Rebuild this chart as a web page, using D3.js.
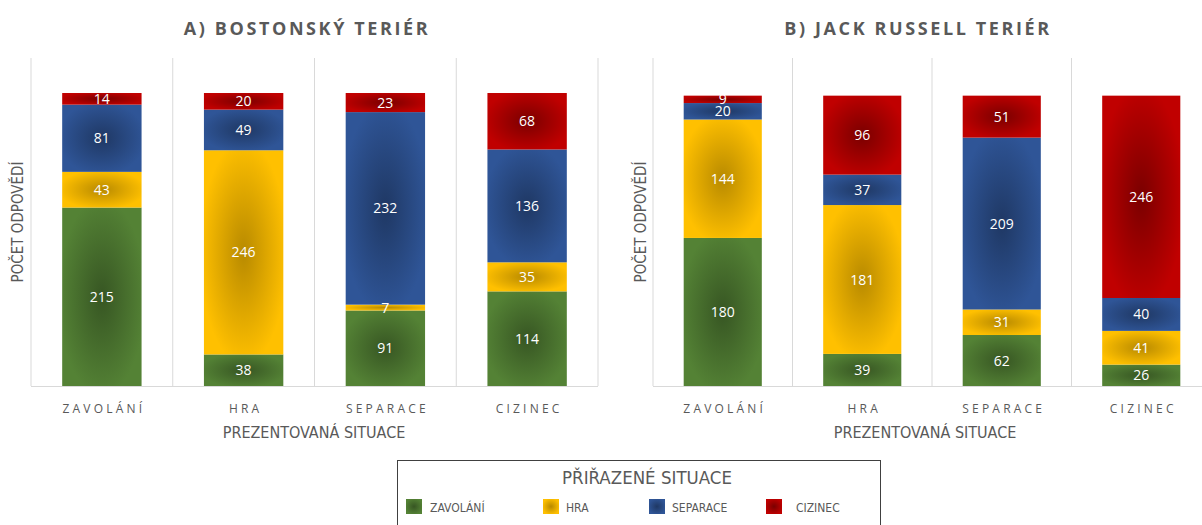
<!DOCTYPE html>
<html>
<head>
<meta charset="utf-8">
<script src="https://cdn.jsdelivr.net/npm/d3@7"></script>
<style>
  body { margin: 0; background: #fff; }
  svg { display: block; }
  .narrow { font-family: "Liberation Sans Narrow", "DejaVu Sans Condensed", "Open Sans", sans-serif; }
</style>
</head>
<body>
<svg id="chart" width="1202" height="525"></svg>
<script>
// presented situations (x categories)
const situations = ["ZAVOLÁNÍ", "HRA", "SEPARACE", "CIZINEC"];
// assigned situations (stack series)
const assigned = ["zavolani", "hra", "separace", "cizinec"];
const legendLabels = ["ZAVOLÁNÍ", "HRA", "SEPARACE", "CIZINEC"];

// A) Boston terrier
const bostonZavolani = [215, 38, 91, 114];
const bostonHra      = [43, 246, 7, 35];
const bostonSeparace = [81, 49, 232, 136];
const bostonCizinec  = [14, 20, 23, 68];

// B) Jack Russell terrier
const jackZavolani = [180, 39, 62, 26];
const jackHra      = [144, 181, 31, 41];
const jackSeparace = [20, 37, 209, 40];
const jackCizinec  = [9, 96, 51, 246];

const yMax = 400;

const colors = {
  zavolani: { light: "#548235", dark: "#375623" },
  hra:      { light: "#ffc000", dark: "#b88a00" },
  separace: { light: "#2f5597", dark: "#1f3864" },
  cizinec:  { light: "#c00000", dark: "#7a0000" }
};

const svg = d3.select("#chart");
const defs = svg.append("defs");
assigned.forEach(k => {
  const g = defs.append("radialGradient")
    .attr("id", "grad-" + k)
    .attr("cx", "50%").attr("cy", "50%").attr("r", "55%");
  g.append("stop").attr("offset", "0%").attr("stop-color", colors[k].dark);
  g.append("stop").attr("offset", "100%").attr("stop-color", colors[k].light);
});

function rows(z, h, s, c) {
  return situations.map((name, i) => ({
    name, zavolani: z[i], hra: h[i], separace: s[i], cizinec: c[i]
  }));
}

const panels = [
  { title: "A) BOSTONSKÝ TERIÉR", titleX: 307, yTitleX: 18, left: 31, right: 598, plotTop: 54,
    data: rows(bostonZavolani, bostonHra, bostonSeparace, bostonCizinec) },
  { title: "B) JACK RUSSELL TERIÉR", titleX: 918, yTitleX: 641, left: 653, right: 1211, plotTop: 57,
    data: rows(jackZavolani, jackHra, jackSeparace, jackCizinec) }
];

const plotBottom = 386;
const stack = d3.stack().keys(assigned);

panels.forEach(p => {
  const g = svg.append("g");
  const y = d3.scaleLinear().domain([0, yMax]).range([plotBottom, p.plotTop]);
  const xCell = d3.scaleBand().domain(situations).range([p.left, p.right]);
  const x = d3.scaleBand().domain(situations).range([p.left, p.right])
    .paddingInner(0.44).paddingOuter(0.22);

  // vertical separators
  const edges = situations.map(s => xCell(s)).concat([p.right]);
  g.selectAll("line.sep").data(edges).join("line")
    .attr("x1", d => d).attr("x2", d => d)
    .attr("y1", 58).attr("y2", plotBottom)
    .attr("stroke", "#d9d9d9").attr("stroke-width", 1);
  g.append("line")
    .attr("x1", p.left).attr("x2", p.right)
    .attr("y1", plotBottom + 0.5).attr("y2", plotBottom + 0.5)
    .attr("stroke", "#d9d9d9");

  const series = stack(p.data);
  const layer = g.selectAll("g.layer").data(series).join("g")
    .attr("fill", d => "url(#grad-" + d.key + ")");
  layer.selectAll("rect").data(d => d).join("rect")
    .attr("x", d => x(d.data.name))
    .attr("width", x.bandwidth())
    .attr("y", d => y(d[1]))
    .attr("height", d => y(d[0]) - y(d[1]));

  const labels = g.append("g")
    .attr("font-family", "'Open Sans', sans-serif")
    .attr("font-size", 14).attr("fill", "#fff").attr("text-anchor", "middle");
  series.forEach(s => {
    labels.selectAll(null).data(s).join("text")
      .attr("x", d => x(d.data.name) + x.bandwidth() / 2)
      .attr("y", d => (y(d[0]) + y(d[1])) / 2)
      .attr("dy", "0.36em")
      .text(d => d[1] - d[0]);
  });

  // category axis
  g.selectAll("text.cat").data(situations).join("text")
    .attr("x", d => xCell(d) + xCell.bandwidth() / 2 + 2)
    .attr("y", 413)
    .attr("text-anchor", "middle")
    .attr("font-family", "'Open Sans', sans-serif")
    .attr("font-size", 12).attr("letter-spacing", 3.2)
    .attr("fill", "#595959")
    .text(d => d);

  g.append("text")
    .attr("class", "narrow")
    .attr("x", p.titleX + 7).attr("y", 438)
    .attr("text-anchor", "middle")
    .attr("font-size", 16).attr("fill", "#595959")
    .text("PREZENTOVANÁ SITUACE");

  g.append("text")
    .attr("class", "narrow")
    .attr("transform", `translate(${p.yTitleX + 5},222) rotate(-90)`)
    .attr("text-anchor", "middle")
    .attr("font-size", 15).attr("fill", "#595959")
    .text("POČET ODPOVĚDÍ");

  g.append("text")
    .attr("x", p.titleX).attr("y", 35)
    .attr("text-anchor", "middle")
    .attr("font-family", "'Open Sans', sans-serif")
    .attr("font-weight", "bold")
    .attr("font-size", 18).attr("letter-spacing", 2.6)
    .attr("fill", "#595959")
    .text(p.title);
});

// legend
const lg = svg.append("g");
lg.append("rect")
  .attr("x", 397.5).attr("y", 460.5).attr("width", 483).attr("height", 80)
  .attr("fill", "#fff").attr("stroke", "#404040");
lg.append("text")
  .attr("class", "narrow")
  .attr("x", 647).attr("y", 484)
  .attr("text-anchor", "middle")
  .attr("font-size", 18.5).attr("fill", "#595959")
  .text("PŘIŘAZENÉ SITUACE");

const legendX = [406, 543, 649, 766];
const legendTextX = [430, 566, 672, 796];
const item = lg.selectAll("g.item").data(assigned).join("g");
item.append("rect")
  .attr("x", (d, i) => legendX[i]).attr("y", 499)
  .attr("width", 16).attr("height", 15)
  .attr("fill", d => "url(#grad-" + d + ")");
item.append("text")
  .attr("class", "narrow")
  .attr("x", (d, i) => legendTextX[i]).attr("y", 512)
  .attr("font-size", 12).attr("fill", "#595959")
  .text((d, i) => legendLabels[i]);
</script>
</body>
</html>
